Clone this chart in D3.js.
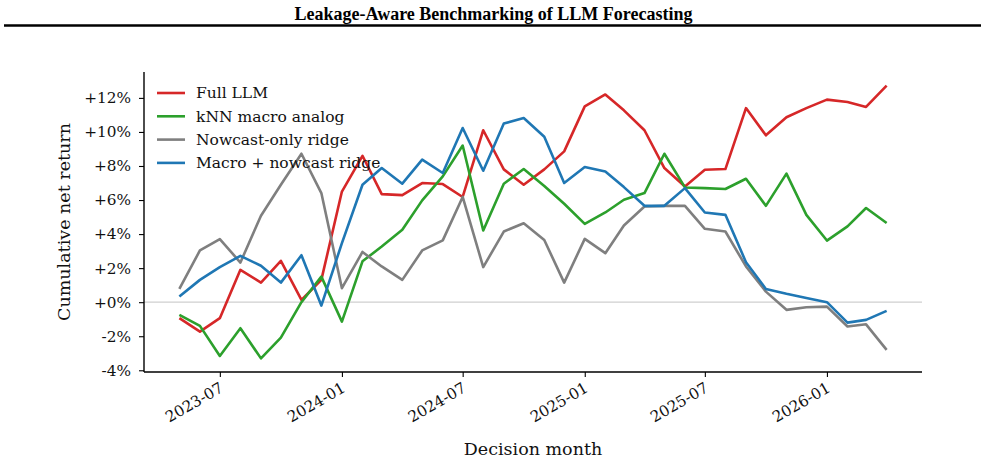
<!DOCTYPE html>
<html>
<head>
<meta charset="utf-8">
<script src="https://cdn.jsdelivr.net/npm/d3@7"></script>
<style>
  body { margin: 0; background: #fff; }
  svg text { font-family: 'DejaVu Serif', serif; fill: #111; }
</style>
</head>
<body>
<div id="chart"></div>
<script>
// decision months (first of month)
const months = [
  "2023-05", "2023-06", "2023-07", "2023-08", "2023-09", "2023-10", "2023-11", "2023-12",
  "2024-01", "2024-02", "2024-03", "2024-04", "2024-05", "2024-06", "2024-07", "2024-08",
  "2024-09", "2024-10", "2024-11", "2024-12", "2025-01", "2025-02", "2025-03", "2025-04",
  "2025-05", "2025-06", "2025-07", "2025-08", "2025-09", "2025-10", "2025-11", "2025-12",
  "2026-01", "2026-02", "2026-03", "2026-04"
];

// cumulative net return, percent
const fullLLM = [-0.94, -1.73, -0.94, 1.9, 1.15, 2.43, 0.13, 1.31, 6.5, 8.6, 6.35, 6.29,
  7.0, 6.94, 6.18, 10.1, 7.8, 6.9, 7.8, 8.86, 11.5, 12.2, 11.27, 10.1,
  7.88, 6.8, 7.78, 7.82, 11.4, 9.8, 10.86, 11.4, 11.9, 11.76, 11.47, 12.72];
const knnAnalog = [-0.75, -1.39, -3.16, -1.53, -3.3, -2.08, 0.0, 1.5, -1.14, 2.4, 3.27, 4.25,
  5.98, 7.39, 9.2, 4.21, 6.96, 7.82, 6.83, 5.78, 4.6, 5.27, 6.02, 6.41,
  8.72, 6.74, 6.7, 6.65, 7.25, 5.66, 7.55, 5.13, 3.62, 4.45, 5.53, 4.65];
const nowcastRidge = [0.78, 3.04, 3.7, 2.33, 5.08, 6.9, 8.72, 6.41, 0.82, 2.95, 2.1, 1.31,
  3.04, 3.63, 6.18, 2.06, 4.15, 4.64, 3.65, 1.15, 3.72, 2.88, 4.5, 5.62,
  5.66, 5.66, 4.31, 4.15, 2.1, 0.62, -0.45, -0.3, -0.26, -1.43, -1.3, -2.8];
const macroNowcast = [0.33, 1.31, 2.06, 2.72, 2.14, 1.15, 2.76, -0.2, 3.47, 6.9, 7.88, 6.96,
  8.37, 7.59, 10.23, 7.72, 10.49, 10.82, 9.72, 7.0, 7.94, 7.68, 6.76, 5.66,
  5.66, 6.7, 5.27, 5.13, 2.35, 0.78, 0.49, 0.24, 0.0, -1.2, -1.04, -0.51];

const seriesNames = ["Full LLM", "kNN macro analog", "Nowcast-only ridge", "Macro + nowcast ridge"];
const seriesColors = ["#d62728", "#2ca02c", "#7f7f7f", "#1f77b4"];
const yTicks = [-4, -2, 0, 2, 4, 6, 8, 10, 12];
const xTicks = ["2023-07", "2024-01", "2024-07", "2025-01", "2025-07", "2026-01"];

const W = 985, H = 461;
const margin = { top: 72, right: 63, bottom: 89, left: 144 };

const parse = d3.timeParse("%Y-%m");
const dates = months.map(parse);
const allSeries = [fullLLM, knnAnalog, nowcastRidge, macroNowcast];

const svg = d3.select("#chart").append("svg")
  .attr("width", W)
  .attr("height", H);

// title and rule
svg.append("text")
  .attr("x", W / 2 + 1)
  .attr("y", 19.5)
  .attr("text-anchor", "middle")
  .style("font-family", "'Liberation Serif', 'Times New Roman', serif")
  .style("font-weight", "bold")
  .style("font-size", "18px")
  .style("fill", "#000")
  .text("Leakage-Aware Benchmarking of LLM Forecasting");

svg.append("line")
  .attr("x1", 4).attr("x2", W - 4)
  .attr("y1", 25.5).attr("y2", 25.5)
  .attr("stroke", "#000")
  .attr("stroke-width", 2.5);

// scales with matplotlib-like 5% margins
const t0 = dates[0].getTime(), t1 = dates[dates.length - 1].getTime();
const tpad = (t1 - t0) * 0.05;
const x = d3.scaleTime()
  .domain([new Date(t0 - tpad), new Date(t1 + tpad)])
  .range([margin.left, W - margin.right]);

const ymin = d3.min(allSeries, s => d3.min(s));
const ymax = d3.max(allSeries, s => d3.max(s));
const ypad = (ymax - ymin) * 0.05;
const y = d3.scaleLinear()
  .domain([ymin - ypad, ymax + ypad])
  .range([H - margin.bottom, margin.top]);

const fmt = v => (v >= 0 ? "+" : "-") + Math.abs(v) + "%";

// zero reference line
svg.append("line")
  .attr("x1", x.range()[0]).attr("x2", x.range()[1])
  .attr("y1", y(0)).attr("y2", y(0))
  .attr("stroke", "#cfcfcf")
  .attr("stroke-width", 1.3);

// series
const line = d3.line()
  .x((d, i) => x(dates[i]))
  .y(d => y(d));

allSeries.forEach((s, k) => {
  svg.append("path")
    .datum(s)
    .attr("fill", "none")
    .attr("stroke", seriesColors[k])
    .attr("stroke-width", 2.6)
    .attr("stroke-linejoin", "round")
    .attr("d", line);
});

// y axis
const yAxis = svg.append("g")
  .attr("transform", `translate(${margin.left},0)`)
  .call(d3.axisLeft(y).tickValues(yTicks).tickFormat(fmt).tickSize(5).tickPadding(8));
yAxis.select(".domain").attr("stroke-width", 1.4).attr("d", `M0,${y.range()[1]}V${y.range()[0]}`);
yAxis.selectAll(".tick line").attr("stroke-width", 1.1);
yAxis.selectAll(".tick text")
  .style("font-size", "15.3px")
  .style("font-family", "'DejaVu Serif', serif");

// x axis
const xAxis = svg.append("g")
  .attr("transform", `translate(0,${H - margin.bottom})`)
  .call(d3.axisBottom(x).tickValues(xTicks.map(parse)).tickFormat(d3.timeFormat("%Y-%m")).tickSize(5).tickPadding(4));
xAxis.select(".domain").attr("stroke-width", 1.4).attr("d", `M${x.range()[0]},0H${x.range()[1]}`);
xAxis.selectAll(".tick line").attr("stroke-width", 1.1);
xAxis.selectAll(".tick text")
  .style("font-size", "15.3px")
  .style("font-family", "'DejaVu Serif', serif")
  .attr("text-anchor", "end")
  .attr("y", 0)
  .attr("dy", 0)
  .attr("transform", "translate(4,19) rotate(-30)");

// axis labels
svg.append("text")
  .attr("x", (x.range()[0] + x.range()[1]) / 2)
  .attr("y", 455)
  .attr("text-anchor", "middle")
  .style("font-size", "17.5px")
  .text("Decision month");

svg.append("text")
  .attr("transform", `translate(70,${(y.range()[0] + y.range()[1]) / 2}) rotate(-90)`)
  .attr("text-anchor", "middle")
  .style("font-size", "17.5px")
  .text("Cumulative net return");

// legend
const legend = svg.append("g").attr("transform", "translate(157,93)");
seriesNames.forEach((name, k) => {
  const g = legend.append("g").attr("transform", `translate(0,${k * 23.3})`);
  g.append("line")
    .attr("x1", 0).attr("x2", 28)
    .attr("y1", 0).attr("y2", 0)
    .attr("stroke", seriesColors[k])
    .attr("stroke-width", 2.6);
  g.append("text")
    .attr("x", 39)
    .attr("y", 0)
    .attr("dy", "0.35em")
    .style("font-size", "15.5px")
    .text(name);
});
</script>
</body>
</html>
